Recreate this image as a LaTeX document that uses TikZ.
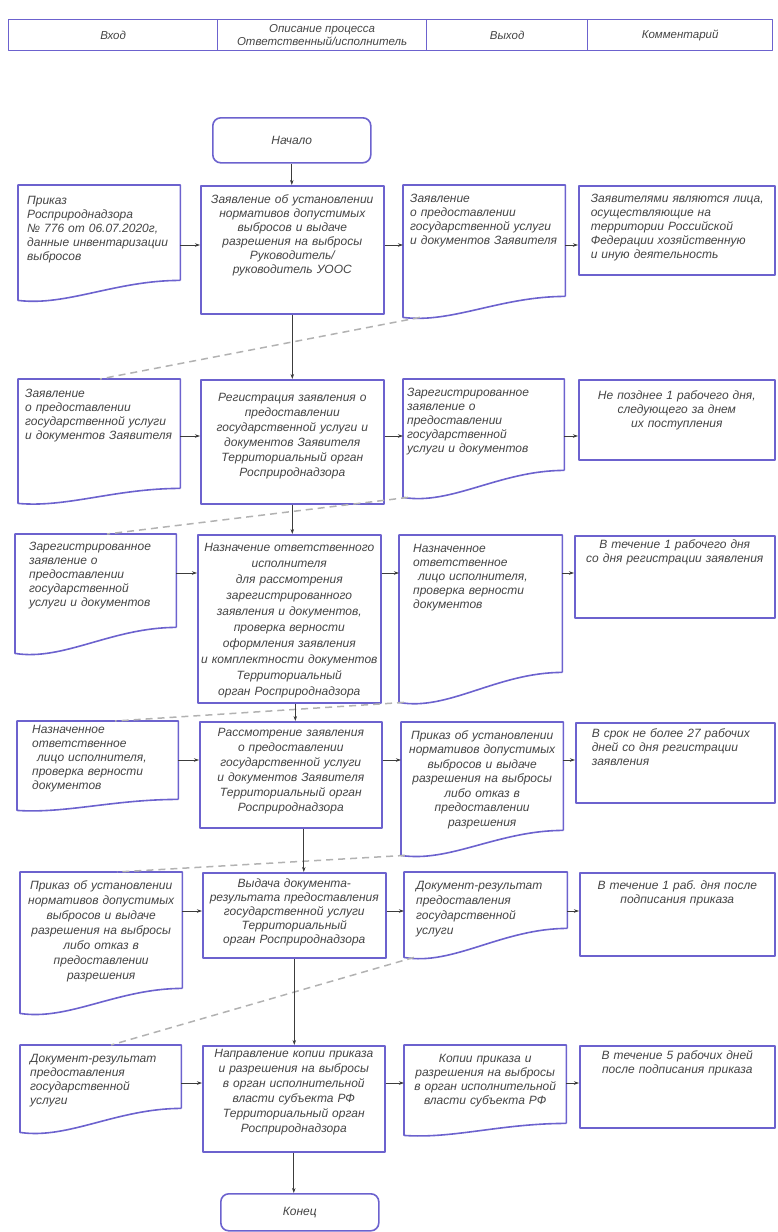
\documentclass[tikz,border=0pt]{standalone}
\usepackage{fontspec}
\setmainfont{Liberation Sans}
\usetikzlibrary{arrows.meta,calc}
\frenchspacing

\definecolor{frameblue}{RGB}{108,98,206}
\definecolor{inkgray}{RGB}{68,68,68}
\definecolor{linegray}{RGB}{60,60,60}
\definecolor{dashgray}{RGB}{178,178,178}

\tikzset{
  frame/.style={draw=frameblue, line width=1.6pt, line join=round},
  txt/.style={font=\fontsize{12}{14}\selectfont\itshape, text=inkgray},
  cell/.style={txt, anchor=north west, inner xsep=6pt, inner ysep=0pt},
  proc/.style={cell, frame, align=center},
  doc/.style={cell},
  note/.style={cell, frame},
  term/.style={txt, frame, anchor=north west, rounded corners=8pt, align=center},
  head/.style={txt, frame, line width=1.2pt, anchor=north west, inner ysep=1pt,
    font=\fontsize{11.5}{12.5}\selectfont\itshape, minimum height=31pt, align=center},
  flow/.style={draw=linegray, line width=0.7pt, -{Stealth[length=5pt,width=3.5pt]}},
  link/.style={draw=dashgray, line width=1.5pt, dash pattern=on 7pt off 5pt},
}

% document outline: node name, drop of the left corner
\newcommand\docframe[2]{%
  \draw[frame] (#1.south east) -- (#1.north east) -- (#1.north west)
    -- ([yshift=-#2pt]#1.south west) coordinate (#1-bl)
    .. controls ($(#1.south west)!0.3!(#1.south east)+(0,1.3*#2)$)
    and ($(#1.south west)!0.6!(#1.south east)$) .. (#1.south east);}

\begin{document}
\begin{tikzpicture}[x=1pt, y=-1pt]
\useasboundingbox (0,0) rectangle (777,1232);

% Header
\node[head, minimum width=209pt] (hIn) at (8,19) {Вход};
\node[head, minimum width=209pt] (hDesc) at (217,19) {Описание процесса\\Ответственный/исполнитель};
\node[head, minimum width=161pt] (hOut) at (426,19) {Выход};
\node[head, minimum width=185pt] (hNote) at (587,19) {Комментарий};

% Start
\node[term, minimum width=158pt, minimum height=45pt] (start) at (212,117) {Начало};

% Row heights of the arrows
\coordinate (r1) at (0,245);
\coordinate (r2) at (0,436);
\coordinate (r3) at (0,573);
\coordinate (r4) at (0,760);
\coordinate (r5) at (0,911);
\coordinate (r6) at (0,1083);

% Row 1
\node[doc, inner xsep=9pt, text width=144pt, text height=19pt, text depth=76pt, align=left] (in1) at (18,185)
  {Приказ\\Росприроднадзора\\№ 776 от 06.07.2020г,\\данные инвентаризации\\выбросов};
\node[proc, text width=171pt, text height=18pt, text depth=110pt] (p1) at (200,185)
  {Заявление об установлении\\нормативов допустимых\\выбросов и выдаче\\разрешения на выбросы\\Руководитель/\\руководитель УООС};
\node[doc, inner xsep=7pt, text width=148pt, text height=17pt, text depth=94pt, align=left] (out1) at (403,185)
  {Заявление\\о предоставлении\\государственной услуги\\и документов Заявителя};
\node[note, inner xsep=12pt, text width=172pt, text height=17pt, text depth=72pt, align=left] (c1) at (578,185)
  {\mbox{Заявителями являются лица,}\\осуществляющие на\\территории Российской\\Федерации хозяйственную\\и иную деятельность};
\docframe{in1}{20}
\docframe{out1}{21}

% Row 2
\node[doc, inner xsep=7pt, text width=148pt, text height=18pt, text depth=91pt, align=left] (in2) at (18,379)
  {Заявление\\о предоставлении\\государственной услуги\\и документов Заявителя};
\node[proc, inner xsep=4pt, text width=175pt, text height=22pt, text depth=102pt,
  font=\fontsize{12}{15}\selectfont\itshape] (p2) at (200,379)
  {Регистрация заявления о\\предоставлении\\государственной услуги и\\документов Заявителя\\Территориальный орган\\Росприроднадзора};
\node[doc, inner xsep=4pt, text width=153pt, text height=17pt, text depth=74pt, align=left] (out2) at (403,379)
  {Зарегистрированное\\заявление о\\предоставлении\\государственной\\услуги и документов};
\node[note, text width=184pt, text height=20pt, text depth=60pt, align=center] (c2) at (578,379)
  {Не позднее 1 рабочего дня,\\следующего за днем\\их поступления};
\docframe{in2}{15}
\docframe{out2}{27}

% Row 3
\node[doc, inner xsep=14pt, text width=133pt, text height=16pt, text depth=77pt, align=left] (in3) at (15,534)
  {Зарегистрированное\\заявление о\\предоставлении\\государственной\\услуги и документов};
\node[proc, inner xsep=3pt, text width=177pt, text height=17pt, text depth=151pt,
  font=\fontsize{12}{16}\selectfont\itshape] (p3) at (197,534)
  {Назначение ответственного\\исполнителя\\для рассмотрения\\зарегистрированного\\заявления и документов,\\проверка верности\\оформления заявления\\\mbox{и комплектности документов}\\Территориальный\\орган Росприроднадзора};
\node[doc, inner xsep=14pt, text width=135pt, text height=17pt, text depth=120pt, align=left] (out3) at (399,535)
  {Назначенное\\ответственное\\\hspace*{5pt}лицо исполнителя,\\проверка верности\\документов};
\node[note, inner xsep=3pt, text width=194pt, text height=13pt, text depth=69pt, align=center] (c3) at (574,535)
  {В течение 1 рабочего дня\\со дня регистрации заявления};
\docframe{in3}{26}
\docframe{out3}{30}

% Row 4
\node[doc, inner xsep=15pt, text width=131pt, text height=12pt, text depth=66pt, align=left] (in4) at (17,721)
  {Назначенное\\ответственное\\\hspace*{5pt}лицо исполнителя,\\проверка верности\\документов};
\node[proc, inner xsep=4pt, text width=174pt, text height=15pt, text depth=91pt,
  font=\fontsize{12}{15}\selectfont\itshape] (p4) at (199,721)
  {Рассмотрение заявления\\о предоставлении\\государственной услуги\\и документов Заявителя\\Территориальный орган\\Росприроднадзора};
\node[doc, inner xsep=3pt, text width=156pt, text height=17pt, text depth=91pt, align=center,
  font=\fontsize{12}{14.5}\selectfont\itshape] (out4) at (401,722)
  {Приказ об установлении\\нормативов допустимых\\выбросов и выдаче\\разрешения на выбросы\\либо отказ в\\предоставлении\\разрешения};
\node[note, inner xsep=16pt, text width=167pt, text height=15pt, text depth=65pt, align=left] (c4) at (575,722)
  {В срок не более 27 рабочих\\дней со дня регистрации\\заявления};
\docframe{in4}{11}
\docframe{out4}{25}

% Row 5
\node[doc, inner xsep=3pt, text width=156pt, text height=17pt, text depth=99pt, align=center,
  font=\fontsize{12}{15}\selectfont\itshape] (in5) at (20,872)
  {Приказ об установлении\\нормативов допустимых\\выбросов и выдаче\\разрешения на выбросы\\либо отказ в\\предоставлении\\разрешения};
\node[proc, inner xsep=3pt, text width=177pt, text height=15pt, text depth=70pt] (p5) at (202,872)
  {Выдача документа-\\результата предоставления\\государственной услуги\\Территориальный\\орган Росприроднадзора};
\node[doc, inner xsep=12pt, text width=139pt, text height=17pt, text depth=39pt, align=left,
  font=\fontsize{12}{15}\selectfont\itshape] (out5) at (404,872)
  {Документ-результат\\предоставления\\государственной\\услуги};
\node[note, inner xsep=3pt, text width=189pt, text height=17pt, text depth=66pt, align=center] (c5) at (579,872)
  {В течение 1 раб. дня после\\подписания приказа};
\docframe{in5}{25}
\docframe{out5}{29}

% Row 6
\node[doc, inner xsep=10pt, text width=141pt, text height=17pt, text depth=46pt, align=left] (in6) at (20,1045)
  {Документ-результат\\предоставления\\государственной\\услуги};
\node[proc, inner xsep=3pt, text width=176pt, text height=12pt, text depth=94pt,
  font=\fontsize{12}{15}\selectfont\itshape] (p6) at (202,1045)
  {Направление копии приказа\\и разрешения на выбросы\\в орган исполнительной\\власти субъекта РФ\\Территориальный орган\\Росприроднадзора};
\node[doc, inner xsep=3pt, text width=156pt, text height=17pt, text depth=61pt, align=center] (out6) at (404,1045)
  {Копии приказа и\\разрешения на выбросы\\в орган исполнительной\\власти субъекта РФ};
\node[note, inner xsep=3pt, text width=189pt, text height=14pt, text depth=68pt, align=center] (c6) at (579,1045)
  {В течение 5 рабочих дней\\после подписания приказа};
\docframe{in6}{24}
\docframe{out6}{12}

% End
\node[term, minimum width=158pt, minimum height=37pt] (finish) at (220,1193) {Конец};

% Output of one step goes on as input of the next
\draw[link] ([xshift=17pt]out1-bl) -- ([xshift=82pt]in2.north west);
\draw[link] ([xshift=5pt]out2-bl) -- ([xshift=92pt]in3.north west);
\draw[link] ([xshift=5pt]out3-bl) -- ([xshift=98pt]in4.north west);
\draw[link] ([xshift=4pt]out4-bl) -- ([xshift=97pt]in5.north west);
\draw[link] ([xshift=10pt]out5-bl) -- ([xshift=91pt]in6.north west);

% Main flow
\draw[flow] (start.south) -- (start.south |- p1.north);
\draw[flow] (p1.south) -- (p1.south |- p2.north);
\draw[flow] (p2.south) -- (p2.south |- p3.north);
\draw[flow] ([xshift=6pt]p3.south) -- ([xshift=6pt]p3.south |- p4.north);
\draw[flow] ([xshift=13pt]p4.south) -- ([xshift=13pt]p4.south |- p5.north);
\draw[flow] (p5.south) -- (p5.south |- p6.north);
\draw[flow] (p6.south) -- (p6.south |- finish.north);

% Inputs, outputs, comments
\draw[flow] (in1.east |- r1) -- (p1.west |- r1);
\draw[flow] (p1.east |- r1) -- (out1.west |- r1);
\draw[flow] (out1.east |- r1) -- (c1.west |- r1);
\draw[flow] (in2.east |- r2) -- (p2.west |- r2);
\draw[flow] (p2.east |- r2) -- (out2.west |- r2);
\draw[flow] (out2.east |- r2) -- (c2.west |- r2);
\draw[flow] (in3.east |- r3) -- (p3.west |- r3);
\draw[flow] (p3.east |- r3) -- (out3.west |- r3);
\draw[flow] (out3.east |- r3) -- (c3.west |- r3);
\draw[flow] (in4.east |- r4) -- (p4.west |- r4);
\draw[flow] (p4.east |- r4) -- (out4.west |- r4);
\draw[flow] (out4.east |- r4) -- (c4.west |- r4);
\draw[flow] (in5.east |- r5) -- (p5.west |- r5);
\draw[flow] (p5.east |- r5) -- (out5.west |- r5);
\draw[flow] (out5.east |- r5) -- (c5.west |- r5);
\draw[flow] (in6.east |- r6) -- (p6.west |- r6);
\draw[flow] (p6.east |- r6) -- (out6.west |- r6);
\draw[flow] (out6.east |- r6) -- (c6.west |- r6);

\end{tikzpicture}
\end{document}
